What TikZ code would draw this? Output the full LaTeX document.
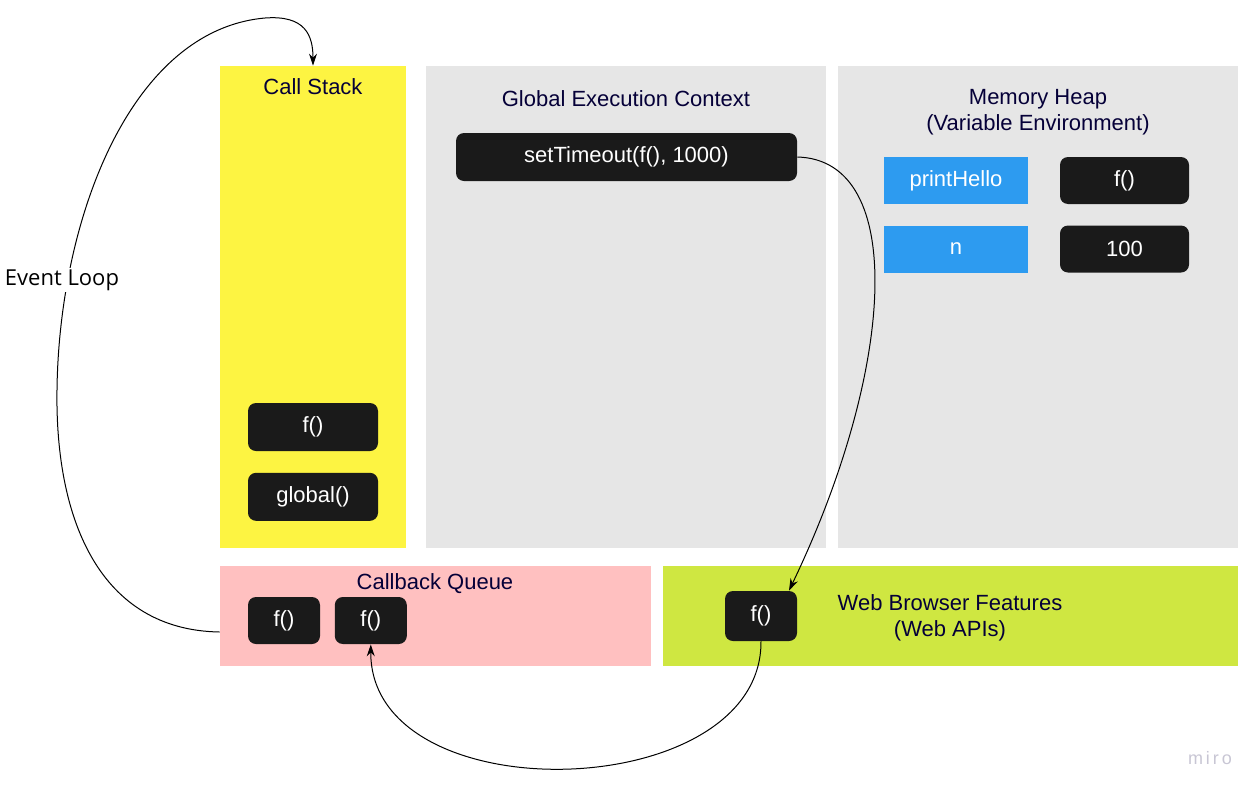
\documentclass[tikz,border=0pt]{standalone}
\usepackage{fontspec}
\setmainfont{Liberation Sans}
\newfontfamily\loopfont{Open Sans}
\usepackage{xcolor}
\usepackage{tikz}
\usetikzlibrary{positioning, arrows.meta}

\definecolor{stackyellow}{HTML}{FDF442}
\definecolor{panelgray}{HTML}{E6E6E6}
\definecolor{queuepink}{HTML}{FFC0C0}
\definecolor{webgreen}{HTML}{CFE741}
\definecolor{varblue}{HTML}{2D9BF0}
\definecolor{boxblack}{HTML}{1A1A1A}
\definecolor{titlenavy}{HTML}{050038}
\definecolor{brandgray}{HTML}{C8C6D4}

\begin{document}
\begin{tikzpicture}[
    x=0.5pt, y=-0.5pt,
    font=\fontsize{11}{13}\selectfont,
    node distance=10.5pt and 16pt,
    panel/.style={rectangle, fill=#1, inner sep=0pt},
    title/.style={text=titlenavy, align=center, inner sep=0pt},
    blk/.style={rectangle, rounded corners=4pt, fill=boxblack, text=white, minimum width=#1, minimum height=23.5pt, inner sep=0pt},
    var/.style={rectangle, fill=varblue, text=white, minimum width=72pt, minimum height=23.5pt, inner sep=0pt},
    arrow/.style={-{Stealth[length=6pt, width=4pt]}, line width=0.5pt}
]
    \useasboundingbox (0,0) rectangle (1260,793);

    % panels
    \node[panel=stackyellow, minimum width=93pt, minimum height=241pt] (stack) at (313,307) {};
    \node[panel=panelgray, minimum width=200pt, minimum height=241pt] (gec) at (626,307) {};
    \node[panel=panelgray, minimum width=200pt, minimum height=241pt] (heap) at (1038,307) {};
    \node[panel=queuepink, minimum width=215.5pt, minimum height=50pt] (cbq) at (435.5,616) {};
    \node[panel=webgreen, minimum width=287.5pt, minimum height=50pt] (web) at (950.5,616) {};

    % titles
    \node[title] at (313,87) {Call Stack};
    \node[title] at (626,99) {Global Execution Context};
    \node[title] at (1038,112) {Memory Heap\\(Variable Environment)};
    \node[title] at (435,584) {Callback Queue};
    \node[title] at (950,618) {Web Browser Features\\(Web APIs)};

    % call stack frames
    \node[blk=65pt, minimum height=24pt] (stackf) at (313,427) {f()};
    \node[blk=65pt, minimum height=24pt, below=10.5pt of stackf] (global) {global()};

    % global execution context
    \node[blk=170.5pt, minimum height=24pt] (timeout) at (626.5,157) {setTimeout(f(), 1000)};

    % memory heap
    \node[var] (hello) at (956,180.5) {printHello};
    \node[blk=64.5pt] (heapf) at (1124.5,180.5) {f()};
    \node[var] (n) at (956,249) {n};
    \node[blk=64.5pt] (hundred) at (1124.5,249) {100};

    % callback queue and web apis
    \node[blk=36pt] (cbfa) at (284,620.5) {f()};
    \node[blk=36pt, right=7pt of cbfa] (cbfb) {f()};
    \node[blk=36pt, minimum height=25pt] (webf) at (761,616) {f()};

    % connectors
    \draw[arrow] (timeout.east) .. controls (908,160) and (895,370) .. ([xshift=14pt]webf.north);
    \draw[arrow] (webf.south) .. controls (762,805) and (370,815) .. (cbfb.south);
    \draw[arrow] ([yshift=-8pt]cbq.west) .. controls (100,630) and (55,520) .. (57,390)
        .. controls (59,220) and (130,30) .. (265,18)
        .. controls (305,15) and (313,35) .. (stack.north);

    \node[fill=white, inner sep=1pt, font=\loopfont\fontsize{11}{13}\selectfont] (loop) at (62,280) {Event Loop};

    \node[text=brandgray, font=\fontsize{9}{11}\selectfont] (brand) at (1210,758) {m\,i\,r\,o};
\end{tikzpicture}
\end{document}
